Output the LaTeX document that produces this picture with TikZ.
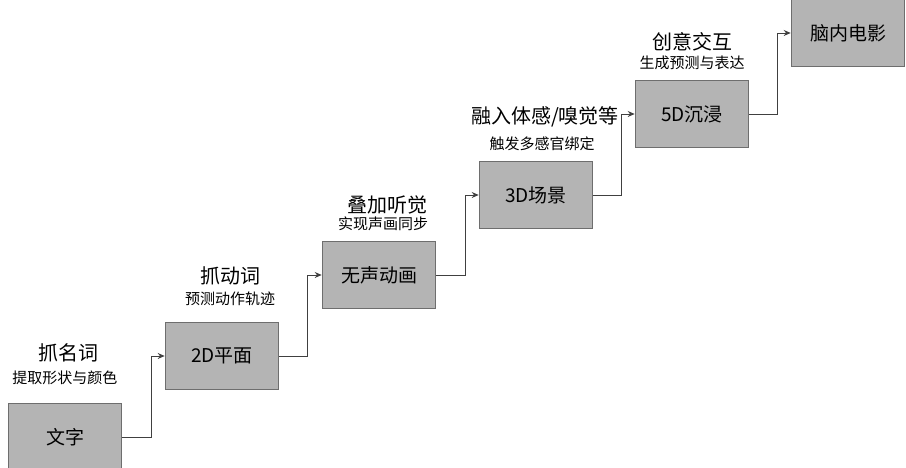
\documentclass[tikz,border=0pt]{standalone}
\usepackage{fontspec}
\newfontfamily\cjk{Noto Sans CJK SC}
\usetikzlibrary{arrows.meta,positioning}
\definecolor{box-fill}{HTML}{B4B4B4}
\definecolor{box-edge}{HTML}{6E6E6E}
\definecolor{link-gray}{HTML}{404040}

\begin{document}
\begin{tikzpicture}[x=1pt, y=1pt, >={Stealth[length=7pt,width=6pt]},
    stage/.style={draw=box-edge, line width=1.6pt, fill=box-fill, minimum width=113pt, minimum height=67pt, font=\cjk\fontsize{19}{23}\selectfont},
    tag/.style={inner sep=0pt, font=\cjk\fontsize{20}{24}\selectfont},
    hint/.style={inner sep=0pt, font=\cjk\fontsize{15}{18}\selectfont},
    link/.style={->, draw=link-gray, line width=0.9pt}]
    \useasboundingbox (0,0) rectangle (906,468);

    \node[stage] (wenzi) at (65,31) {文字};
    \node[stage] (pingmian) at (222,112) {2D平面};
    \node[stage] (donghua) at (379,193) {无声动画};
    \node[stage] (changjing) at (536,273) {3D场景};
    \node[stage] (chenjin) at (692,354) {5D沉浸};
    \node[stage] (dianying) at (848,435) {脑内电影};

    \node[hint, above=18pt of wenzi] (wenzi-hint) {提取形状与颜色};
    \node[tag, above=8pt of wenzi-hint, xshift=3pt] (wenzi-tag) {抓名词};
    \node[hint, above=16pt of pingmian, xshift=8pt] (pingmian-hint) {预测动作轨迹};
    \node[tag, above=6pt of pingmian-hint] (pingmian-tag) {抓动词};
    \node[hint, above=10pt of donghua, xshift=4pt] (donghua-hint) {实现声画同步};
    \node[tag, above=2pt of donghua-hint, xshift=4pt] (donghua-tag) {叠加听觉};
    \node[hint, above=10pt of changjing, xshift=6pt] (changjing-hint) {触发多感官绑定};
    \node[tag, above=9pt of changjing-hint, xshift=3pt] (changjing-tag) {融入体感/嗅觉等};
    \node[hint, above=10pt of chenjin] (chenjin-hint) {生成预测与表达};
    \node[tag, above=4pt of chenjin-hint] (chenjin-tag) {创意交互};

    \coordinate (bend1) at ([xshift=-13pt]pingmian.west);
    \coordinate (bend2) at ([xshift=-14pt]donghua.west);
    \coordinate (bend3) at ([xshift=-13pt]changjing.west);
    \coordinate (bend4) at ([xshift=-13pt]chenjin.west);
    \coordinate (bend5) at ([xshift=-13pt]dianying.west);
    \draw[link] (wenzi.east) -| (bend1) -- (pingmian.west);
    \draw[link] (pingmian.east) -| (bend2) -- (donghua.west);
    \draw[link] (donghua.east) -| (bend3) -- (changjing.west);
    \draw[link] (changjing.east) -| (bend4) -- (chenjin.west);
    \draw[link] (chenjin.east) -| (bend5) -- (dianying.west);
\end{tikzpicture}
\end{document}
